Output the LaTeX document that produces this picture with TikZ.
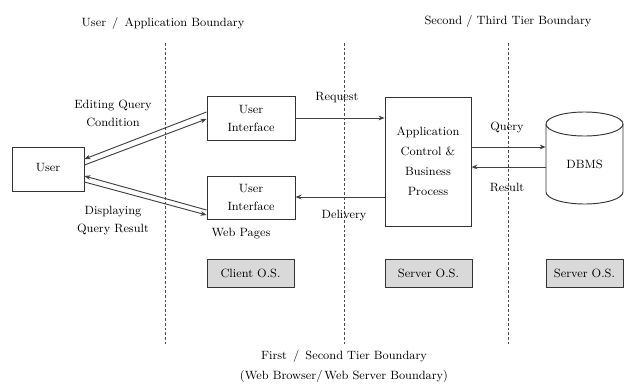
\documentclass[tikz,border=0pt]{standalone}
\usetikzlibrary{arrows.meta,positioning}
\begin{document}
\begin{tikzpicture}[x=0.75pt,y=-0.75pt,
  font=\fontsize{9}{13.5}\selectfont,
  box/.style={draw=black!80,line width=0.7pt,align=center,inner sep=0pt},
  osbox/.style={box,fill=black!15,minimum height=21pt,minimum width=65.25pt},
  lbl/.style={align=center,inner sep=0pt},
  conn/.style={draw=black!75,line width=0.7pt,-{Stealth[length=4.5pt,width=3.5pt]}},
  bnd/.style={dash pattern=on 2pt off 1.5pt,line width=0.6pt,black!70}]
\useasboundingbox (0,0) rectangle (626,383);
% boundaries
\coordinate (b1t) at (165,43); \coordinate (b1b) at (165,344);
\coordinate (b2t) at (344,43); \coordinate (b2b) at (344,344);
\coordinate (b3t) at (508,43); \coordinate (b3b) at (508,344);
\draw[bnd] (b1t) -- (b1b);
\draw[bnd] (b2t) -- (b2b);
\draw[bnd] (b3t) -- (b3b);
\node[lbl] (tl1) at (163,23) {User \,/\, Application Boundary};
\node[lbl] (tl2) at (508,21) {Second / Third Tier Boundary};
\node[lbl] (tl3) at (344,356) {First \,/\, Second Tier Boundary};
\node[lbl] (tl4) at (344,376) {(Web Browser/\,Web Server Boundary)};
% boxes
\node[box,minimum width=54pt,minimum height=33pt] (user) at (48,169) {\raisebox{3pt}{User}};
\node[box,minimum width=66pt,minimum height=33pt] (ui1) at (251,118) {User\\Interface};
\node[box,minimum width=66pt,minimum height=32.25pt] (ui2) at (251,197.5) {User\\Interface};
\node[lbl] (wp) at (241,234) {Web Pages};
\node[box,minimum width=64.5pt,minimum height=96.75pt,font=\fontsize{9}{15}\selectfont] (app) at (428,161.5) {Application\\Control \&\\Business\\Process};
% DBMS cylinder
\node[minimum width=57.75pt,minimum height=69pt,inner sep=0pt] (dbms) at (584.5,164) {DBMS};
\draw[black!80,line width=0.7pt] (546,124) -- (546,192) arc[start angle=180,end angle=0,x radius=38.5,y radius=12] -- (623,124);
\draw[black!80,line width=0.7pt] (584.5,124) ellipse[x radius=38.5,y radius=12];
% OS boxes
\node[osbox] (cos) at (250.5,273) {Client O.S.};
\node[osbox] (sos1) at (428.5,273) {Server O.S.};
\node[osbox,minimum width=57.75pt] (sos2) at (584.5,273) {Server O.S.};
% connectors user <-> ui
\draw[conn] (ui1.west |- 0,112) -- (user.east |- 0,159);
\draw[conn] (user.east |- 0,165) -- (ui1.west |- 0,119);
\draw[conn] (ui2.west |- 0,210) -- (user.east |- 0,176);
\draw[conn] (user.east |- 0,182) -- (ui2.west |- 0,215);
\node[lbl] (eq) at (113,113) {Editing Query\\Condition};
\node[lbl] (dq) at (113,221) {Displaying\\Query Result};
% request / delivery
\draw[conn] (ui1.east |- 0,118) -- (app.west |- 0,118);
\draw[conn] (app.west |- 0,197) -- (ui2.east |- 0,197);
\node[lbl] (req) at (337,98) {Request};
\node[lbl] (del) at (344,216) {Delivery};
% query / result
\draw[conn] (app.east |- 0,147) -- (dbms.west |- 0,147);
\draw[conn] (dbms.west |- 0,167) -- (app.east |- 0,167);
\node[lbl] (qry) at (507,127) {Query};
\node[lbl] (res) at (507,187) {Result};
\end{tikzpicture}
\end{document}
